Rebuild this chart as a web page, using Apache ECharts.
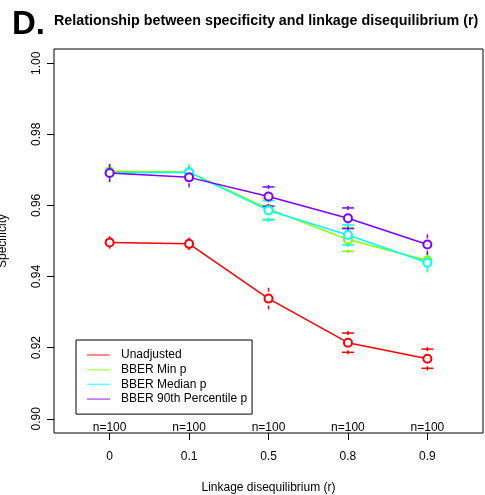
<!DOCTYPE html>
<html><head><meta charset="utf-8">
<script src="https://cdn.jsdelivr.net/npm/echarts@6/dist/echarts.min.js"></script>
<style>html,body{margin:0;padding:0;background:#fff}#c{width:485px;height:495px}</style>
</head><body><div id="c"></div>
<script>
// ---- data ----
var ldLabels = ['0', '0.1', '0.5', '0.8', '0.9'];
var nCounts = [100, 100, 100, 100, 100];
var yTicks = [0.90, 0.92, 0.94, 0.96, 0.98, 1.00];
var seriesNames = ['Unadjusted', 'BBER Min p', 'BBER Median p', 'BBER 90th Percentile p'];
var unadjusted    = [0.9496, 0.9492, 0.9338, 0.9214, 0.9169];
var unadjustedErr = [0.0012, 0.0012, 0.0025, 0.0027, 0.0027];
var minP          = [0.9696, 0.9694, 0.9590, 0.9504, 0.9445];
var minPErr       = [0.0015, 0.0016, 0.0029, 0.0033, 0.0022];
var medianP       = [0.9692, 0.9693, 0.9586, 0.9517, 0.9439];
var medianPErr    = [0.0015, 0.0016, 0.0027, 0.0028, 0.0022];
var pct90P        = [0.9691, 0.9679, 0.9625, 0.9564, 0.9490];
var pct90PErr     = [0.0020, 0.0022, 0.0027, 0.0029, 0.0023];

var colors = ['#FF0000', '#80FF00', '#00FFFF', '#8000FF'];
var values = [unadjusted, minP, medianP, pct90P];
var errs = [unadjustedErr, minPErr, medianPErr, pct90PErr];
var FONT = "'Liberation Sans', Arial, Helvetica, sans-serif";
var xs = [1, 2, 3, 4, 5];

var series = [];
values.forEach(function (vals, k) {
  series.push({
    name: seriesNames[k], type: 'line', z: 3 + k,
    data: vals.map(function (v, i) { return [xs[i], v]; }),
    symbol: 'emptyCircle', symbolSize: 8,
    itemStyle: { color: colors[k], borderWidth: 1.5 },
    lineStyle: { color: colors[k], width: 1.5 },
    emphasis: { disabled: true }
  });
  series.push({
    type: 'custom', z: 2 + k, silent: true,
    data: vals.map(function (v, i) { return [xs[i], v - errs[k][i], v + errs[k][i]]; }),
    renderItem: function (params, api) {
      var lo = api.coord([api.value(0), api.value(1)]);
      var hi = api.coord([api.value(0), api.value(2)]);
      var half = (api.value(2) - api.value(1)) / 2;
      var st = { stroke: colors[k], lineWidth: 1.5 };
      var ch = [];
      [lo, hi].forEach(function (p) {
        ch.push({ type: 'line', shape: { x1: p[0], y1: p[1] - 2, x2: p[0], y2: p[1] + 2 }, style: st });
        if (half >= 0.0026) {
          ch.push({ type: 'line', shape: { x1: p[0] - 6, y1: p[1], x2: p[0] + 6, y2: p[1] }, style: st });
        }
      });
      return { type: 'group', children: ch };
    }
  });
});

var chart = echarts.init(document.getElementById('c'), null, { renderer: 'canvas' });
chart.setOption({
  animation: false,
  backgroundColor: '#fff',
  textStyle: { fontFamily: FONT },
  title: [
    { text: 'D.', left: 7, top: 3, textStyle: { fontFamily: FONT, fontSize: 33, fontWeight: 'bold', color: '#000' } },
    { text: 'Relationship between specificity and linkage disequilibrium (r)', left: 49, top: 9,
      textStyle: { fontFamily: FONT, fontSize: 14.3, fontWeight: 'bold', color: '#000' } }
  ],
  grid: { left: 54, right: 2, top: 49, bottom: 62, show: true, borderColor: '#000', borderWidth: 1,
    containLabel: false, outerBoundsMode: 'none' },
  legend: {
    orient: 'vertical', left: 76, top: 340,
    data: seriesNames,
    icon: 'rect', itemWidth: 23, itemHeight: 1.5, itemGap: 0.7,
    itemStyle: { opacity: 0.6 },
    padding: [8, 5, 8, 11],
    borderColor: '#000', borderWidth: 1, backgroundColor: '#fff',
    textStyle: { fontFamily: FONT, fontSize: 12, color: '#000', lineHeight: 14, padding: [0, 0, 0, 6] },
    selectedMode: false
  },
  xAxis: [
    {
      type: 'value', min: 0.3, max: 5.7, position: 'bottom',
      name: 'Linkage disequilibrium (r)', nameLocation: 'middle', nameGap: 49,
      nameTextStyle: { fontFamily: FONT, fontSize: 12, color: '#000' },
      axisLine: { show: false },
      axisTick: { show: true, length: 7, customValues: xs, lineStyle: { color: '#000' } },
      axisLabel: { customValues: xs, margin: 18, fontFamily: FONT, fontSize: 12, color: '#000',
        formatter: function (v) { return ldLabels[Math.round(v) - 1]; } },
      splitLine: { show: false }
    },
    {
      type: 'value', min: 0.3, max: 5.7, position: 'bottom',
      axisLine: { show: false }, axisTick: { show: false }, splitLine: { show: false },
      axisLabel: { inside: true, customValues: xs, margin: -1, fontFamily: FONT, fontSize: 12, color: '#000',
        formatter: function (v) { return 'n=' + nCounts[Math.round(v) - 1]; } }
    }
  ],
  yAxis: {
    type: 'value', min: 0.896, max: 1.004,
    name: 'Specificity', nameLocation: 'middle', nameRotate: 90, nameGap: 45,
    nameTextStyle: { fontFamily: FONT, fontSize: 12, color: '#000' },
    axisLine: { show: false },
    axisTick: { show: true, length: 7, customValues: yTicks, lineStyle: { color: '#000' } },
    axisLabel: { customValues: yTicks, rotate: 90, margin: 11, fontFamily: FONT, fontSize: 12, color: '#000',
      formatter: function (v) { return v.toFixed(2); } },
    splitLine: { show: false }
  },
  series: series
});
</script></body></html>
